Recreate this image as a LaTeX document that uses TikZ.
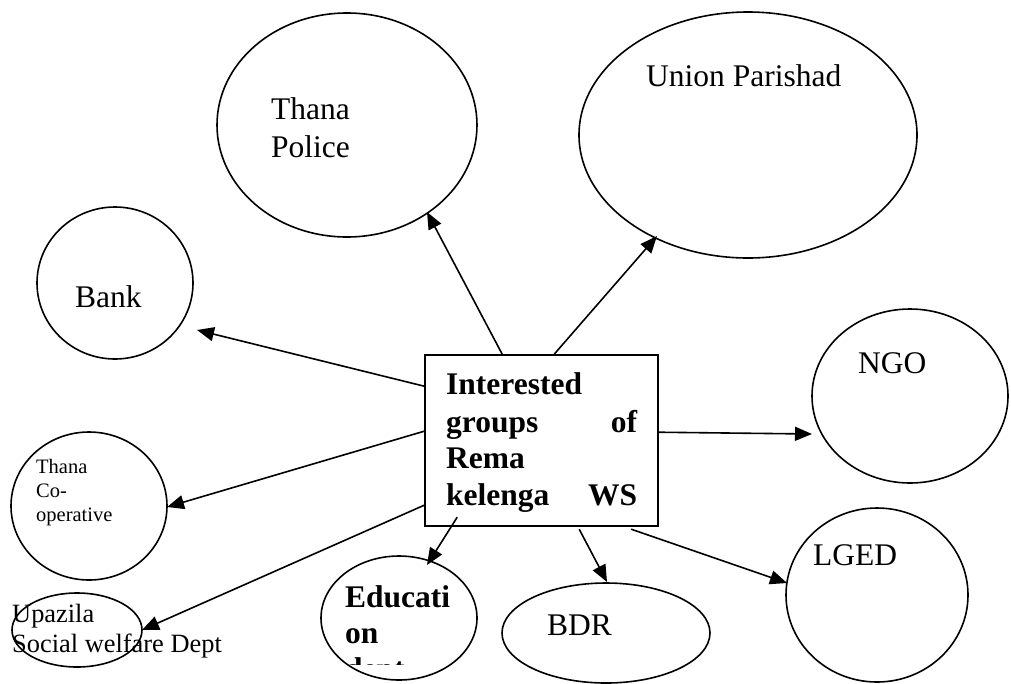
\documentclass[tikz,border=0pt]{standalone}
\usepackage{fontspec}
\setmainfont{Liberation Serif}
\usetikzlibrary{arrows.meta,calc,shapes.geometric}
\begin{document}
\begin{tikzpicture}[x=1pt,y=-1pt,
  oval/.style={draw,ellipse,line width=1.6pt,inner sep=0pt},
  boxnode/.style={draw,rectangle,line width=1.6pt,inner sep=0pt},
  conn/.style={line width=1.6pt,-{Triangle[length=17pt,width=14pt]}},
  lbl/.style={anchor=base west,inner sep=0pt,font=\fontsize{31.5}{36}\selectfont},
  blbl/.style={lbl,font=\fontsize{31.5}{36}\selectfont\bfseries},
  smlbl/.style={anchor=base west,inner sep=0pt,font=\fontsize{20.5}{24}\selectfont},
  mdlbl/.style={anchor=base west,inner sep=0pt,font=\fontsize{26.4}{30}\selectfont}
]
\useasboundingbox (0,0) rectangle (1011,683);

% central box
\node[boxnode,minimum width=233pt,minimum height=171pt] (box) at (541.5,440.5) {};
\node[blbl] (b1) at (446,394) {\hbox to 191pt{Interested\hfill}};
\node[blbl] (b2) at (446,432) {\hbox to 191pt{groups\hfill of}};
\node[blbl] (b3) at (446,468) {\hbox to 191pt{Rema\hfill}};
\node[blbl] (b4) at (446,505) {\hbox to 191pt{kelenga\hfill WS}};

% surrounding ovals
\node[oval,minimum width=260pt,minimum height=224pt] (police) at (347,125) {};
\node[oval,minimum width=338pt,minimum height=246pt] (union) at (748,135) {};
\node[oval,minimum width=156pt,minimum height=152pt] (bank) at (115,283) {};
\node[oval,minimum width=196pt,minimum height=174pt] (ngo) at (910,396) {};
\node[oval,minimum width=156pt,minimum height=148pt] (coop) at (89,506) {};
\node[oval,minimum width=130pt,minimum height=74pt] (upazila) at (77,630) {};
\node[oval,minimum width=156pt,minimum height=124pt] (edu) at (399,618) {};
\node[oval,minimum width=208pt,minimum height=100pt] (bdr) at (606,633) {};
\node[oval,minimum width=182pt,minimum height=174pt] (lged) at (877,595) {};

% labels
\node[lbl] (t1) at (271,119) {Thana};
\node[lbl] (t2) at (271,157) {Police};
\node[lbl] (t3) at (646,86) {Union Parishad};
\node[lbl] (t4) at (75,307) {Bank};
\node[lbl] (t5) at (858,373) {NGO};
\node[lbl] (t6) at (813,565) {LGED};
\node[lbl] (t7) at (547,635) {BDR};
\node[smlbl] (t8) at (36,473) {Thana};
\node[smlbl] (t9) at (36,497) {Co-};
\node[smlbl] (t10) at (36,521) {operative};
\node[mdlbl] (t11) at (12,622) {Upazila};
\node[mdlbl] (t12) at (12,652) {Social welfare Dept};
\node[blbl] (t13) at (345,607) {Educati};
\node[blbl] (t14) at (345,643) {on};
% the third line of the oval's text runs past its lower margin
\begin{scope}
  \clip (320,560) rectangle (480,664);
  \node[blbl] (t15) at (345,679) {dept};
\end{scope}

% connectors from the box
\draw[conn] ($(box.north west)+(78,0)$)   -- ($(police.center)+(80,87)$);
\draw[conn] ($(box.north west)+(130,0)$)  -- ($(union.center)+(-91,101)$);
\draw[conn] ($(box.north west)+(0,32)$)   -- ($(bank.center)+(82,47)$);
\draw[conn] ($(box.north west)+(0,77)$)   -- ($(coop.center)+(78,1)$);
\draw[conn] ($(box.north west)+(0,151)$)  -- ($(upazila.center)+(65,0)$);
\draw[conn] ($(box.north west)+(33,163)$) -- ($(edu.center)+(28,-53)$);
\draw[conn] ($(box.north west)+(155,175)$) -- ($(bdr.center)+(1,-51)$);
\draw[conn] ($(box.north west)+(207,175)$) -- ($(lged.center)+(-90,-12)$);
\draw[conn] ($(box.north west)+(233,78)$) -- ($(ngo.center)+(-98,38)$);
\end{tikzpicture}
\end{document}
